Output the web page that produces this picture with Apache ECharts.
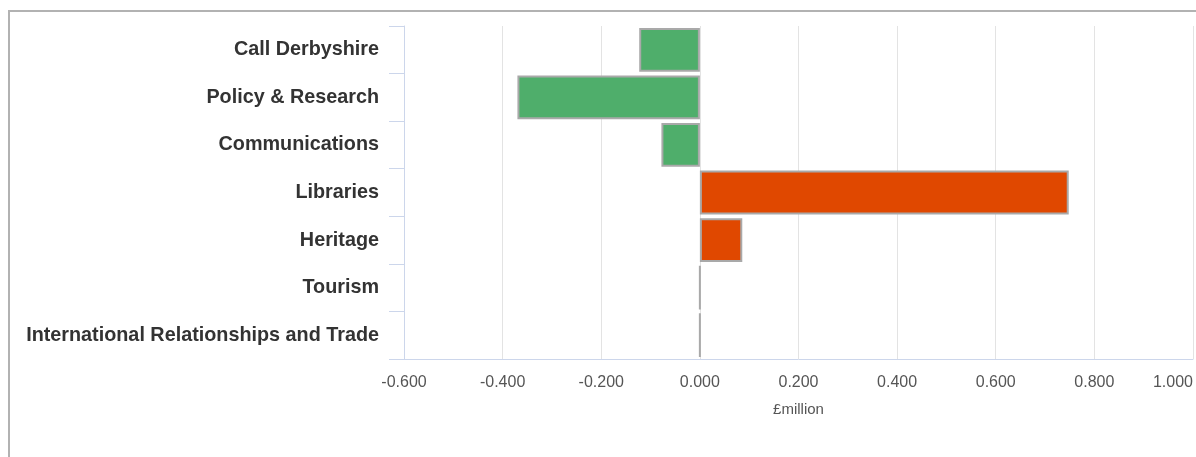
<!DOCTYPE html>
<html>
<head>
<meta charset="utf-8">
<title>Budget variance by service (£million)</title>
<script src="https://cdn.jsdelivr.net/npm/echarts@6/dist/echarts.min.js"></script>
<style>
  html, body { margin: 0; padding: 0; background: #fff; overflow: hidden; }
  #frame {
    position: absolute; left: 8px; top: 10px; width: 1400px; height: 600px;
    border-left: 2px solid #b2b2b2; border-top: 2px solid #b2b2b2;
  }
  #chart { position: absolute; left: 0; top: 0; width: 1196px; height: 457px; }
</style>
</head>
<body>
<div id="frame"></div>
<div id="chart"></div>
<script>
// Services, listed top to bottom
const categories = [
  'Call Derbyshire',
  'Policy & Research',
  'Communications',
  'Libraries',
  'Heritage',
  'Tourism',
  'International Relationships and Trade'
];
// Forecast over (+) / under (-) spend, £million
const values = [-0.123, -0.370, -0.078, 0.748, 0.086, 0, 0];

// Value-axis range and step
const axisMin = -0.6;
const axisMax = 1.0;
const axisStep = 0.2;

const underColor = '#4fae6b';
const overColor = '#e04800';
const FONT = '"Liberation Sans", Arial, Helvetica, sans-serif';

const chart = echarts.init(document.getElementById('chart'), null, { renderer: 'canvas' });

chart.setOption({
  animation: false,
  backgroundColor: 'transparent',
  textStyle: { fontFamily: FONT },
  grid: { left: 404, right: 0, top: 26, bottom: 98, containLabel: false },
  xAxis: {
    type: 'value',
    min: axisMin,
    max: axisMax,
    interval: axisStep,
    name: '£million',
    nameLocation: 'middle',
    nameGap: 43,
    nameTextStyle: { color: '#555', fontSize: 15, fontFamily: FONT },
    axisLine: { show: true, lineStyle: { color: '#ccd6eb', width: 1 } },
    axisTick: { show: false },
    axisLabel: {
      color: '#555',
      fontSize: 16,
      fontFamily: FONT,
      margin: 16,
      alignMaxLabel: 'right',
      formatter: v => v.toFixed(3)
    },
    splitLine: { show: true, lineStyle: { color: '#e3e3e3', width: 1 } }
  },
  yAxis: {
    type: 'category',
    data: categories,
    inverse: true,
    axisLine: { show: true, onZero: false, lineStyle: { color: '#ccd6eb', width: 1 } },
    axisTick: { show: true, length: 15, lineStyle: { color: '#ccd6eb', width: 1 } },
    axisLabel: {
      color: '#333',
      fontSize: 19.8,
      fontWeight: 'bold',
      fontFamily: FONT,
      margin: 25
    },
    splitLine: { show: false }
  },
  series: [{
    type: 'bar',
    data: values,
    barCategoryGap: '8%',
    itemStyle: {
      color: p => (p.value < 0 ? underColor : overColor),
      borderColor: '#a9a9a9',
      borderWidth: 2
    }
  }]
});
</script>
</body>
</html>
